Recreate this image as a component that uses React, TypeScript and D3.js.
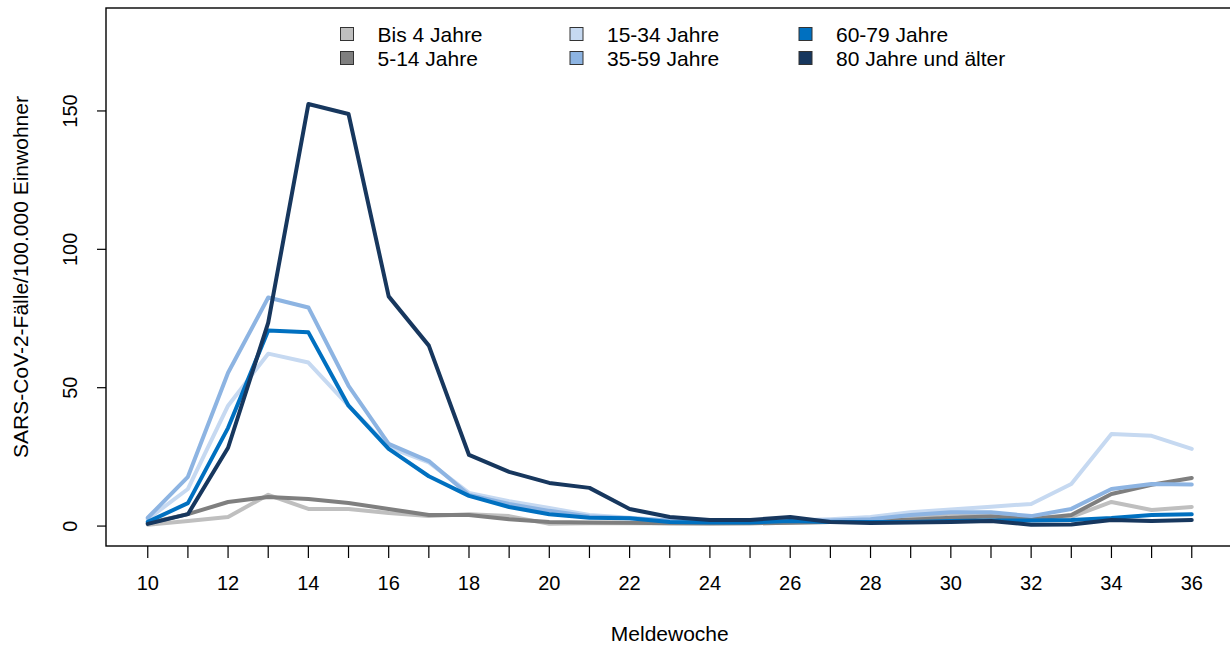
import React from "react";
import * as d3 from "d3";

const weeks = [10, 11, 12, 13, 14, 15, 16, 17, 18, 19, 20, 21, 22, 23, 24, 25, 26, 27, 28, 29, 30, 31, 32, 33, 34, 35, 36];
const xTickLabels = [10, 12, 14, 16, 18, 20, 22, 24, 26, 28, 30, 32, 34, 36];
const yTicks = [0, 50, 100, 150];

const bis4 = [0.5, 1.8, 3.3, 11.3, 6.2, 6.2, 4.7, 3.6, 4.3, 3.6, 0.8, 1.0, 1.0, 1.0, 0.8, 1.0, 1.2, 1.5, 2.0, 3.0, 4.5, 4.0, 3.5, 3.3, 8.7, 5.8, 6.9];
const a514 = [1.0, 4.3, 8.7, 10.5, 9.8, 8.3, 6.2, 4.0, 4.0, 2.5, 1.5, 1.3, 1.2, 1.0, 1.0, 1.0, 1.2, 1.5, 1.8, 2.3, 3.0, 3.5, 2.5, 4.0, 11.6, 14.9, 17.4];
const a1534 = [2.5, 13.4, 43.5, 62.3, 59.1, 43.5, 28.5, 23.0, 12.0, 9.0, 6.5, 4.0, 3.0, 2.0, 1.8, 1.8, 2.0, 2.5, 3.3, 5.0, 6.0, 7.0, 8.0, 15.2, 33.3, 32.6, 27.9];
const a3559 = [3.0, 17.8, 55.4, 82.6, 79.0, 50.7, 29.7, 23.5, 11.2, 8.0, 5.5, 3.5, 2.8, 2.0, 1.5, 1.8, 2.0, 2.0, 2.5, 4.0, 5.0, 5.0, 3.6, 6.2, 13.4, 15.2, 15.0];
const a6079 = [1.5, 8.3, 35.5, 70.7, 70.0, 43.5, 27.9, 18.0, 10.9, 6.9, 4.3, 3.0, 2.8, 1.5, 1.3, 1.3, 1.8, 1.5, 1.5, 1.5, 1.8, 2.0, 2.0, 2.2, 2.9, 4.0, 4.3];
const a80 = [0.8, 4.3, 28.3, 73.5, 152.5, 148.9, 83.0, 65.2, 25.7, 19.6, 15.6, 13.8, 6.2, 3.3, 2.2, 2.2, 3.3, 1.5, 1.1, 1.3, 1.5, 1.8, 0.5, 0.6, 2.2, 1.8, 2.2];

const seriesNames = ["Bis 4 Jahre", "5-14 Jahre", "15-34 Jahre", "35-59 Jahre", "60-79 Jahre", "80 Jahre und älter"];
const seriesColors = ["#bfbfbf", "#7f7f7f", "#c6d9f1", "#8db4e2", "#0070c0", "#17375e"];
const seriesValues = [bis4, a514, a1534, a3559, a6079, a80];

const W = 1230;
const H = 646;
const FONT = "'Liberation Sans', Arial, Helvetica, sans-serif";
const FS_TICK = 20;
const FS = 21;

export default function App() {
  const left = 106;
  const top = 8;
  const bottom = 546;
  const x = d3.scaleLinear().domain([8.96, 37.04]).range([left, left + (37.04 - 8.96) * ((1192 - 148) / 26)]);
  const y = d3.scaleLinear().domain([-7.2, 187.2]).range([bottom, top]);
  const right = x(37.04);

  const line = d3
    .line<number>()
    .x((_, i) => x(weeks[i]))
    .y((d) => y(d));

  const legendBoxX = [347, 576.5, 805.5];
  const legendTextX = [377.5, 607, 836];
  const legendRows = [34, 58];

  return (
    <svg width={W} height={H} style={{ position: "absolute", left: 0, top: 0, background: "#fff" }} fontFamily={FONT}>
      <rect x={0} y={0} width={W} height={H} fill="#fff" />
      {seriesValues.map((vals, si) => (
        <path
          key={si}
          d={line(vals) || ""}
          fill="none"
          stroke={seriesColors[si]}
          strokeWidth={4}
          strokeLinejoin="round"
          strokeLinecap="round"
        />
      ))}
      <rect x={left} y={top} width={right - left} height={bottom - top} fill="none" stroke="#000" strokeWidth={1.4} />
      {yTicks.map((t) => (
        <g key={t}>
          <line x1={left - 9} x2={left} y1={y(t)} y2={y(t)} stroke="#000" strokeWidth={1.2} />
          <text
            transform={`translate(${left - 29},${y(t)}) rotate(-90)`}
            textAnchor="middle"
            fontSize={FS_TICK}
            fill="#000"
          >
            {t}
          </text>
        </g>
      ))}
      <text
        transform={`translate(28,${(top + bottom) / 2}) rotate(-90)`}
        textAnchor="middle"
        fontSize={FS}
        fill="#000"
      >
        SARS-CoV-2-Fälle/100.000 Einwohner
      </text>
      {weeks.map((w) => (
        <line key={w} x1={x(w)} x2={x(w)} y1={bottom} y2={bottom + 12} stroke="#000" strokeWidth={1.2} />
      ))}
      {xTickLabels.map((w) => (
        <text key={w} x={x(w)} y={590} textAnchor="middle" fontSize={FS_TICK} fill="#000">
          {w}
        </text>
      ))}
      <text x={(left + right) / 2} y={641} textAnchor="middle" fontSize={FS} fill="#000">
        Meldewoche
      </text>
      {seriesNames.map((name, i) => {
        const col = Math.floor(i / 2);
        const row = i % 2;
        const cx = legendBoxX[col];
        const cy = legendRows[row];
        return (
          <g key={name}>
            <rect x={cx - 6.5} y={cy - 6.5} width={13} height={13} fill={seriesColors[i]} stroke="#333" strokeWidth={1} />
            <text x={legendTextX[col]} y={cy + 7.5} fontSize={FS} fill="#000">
              {name}
            </text>
          </g>
        );
      })}
    </svg>
  );
}
